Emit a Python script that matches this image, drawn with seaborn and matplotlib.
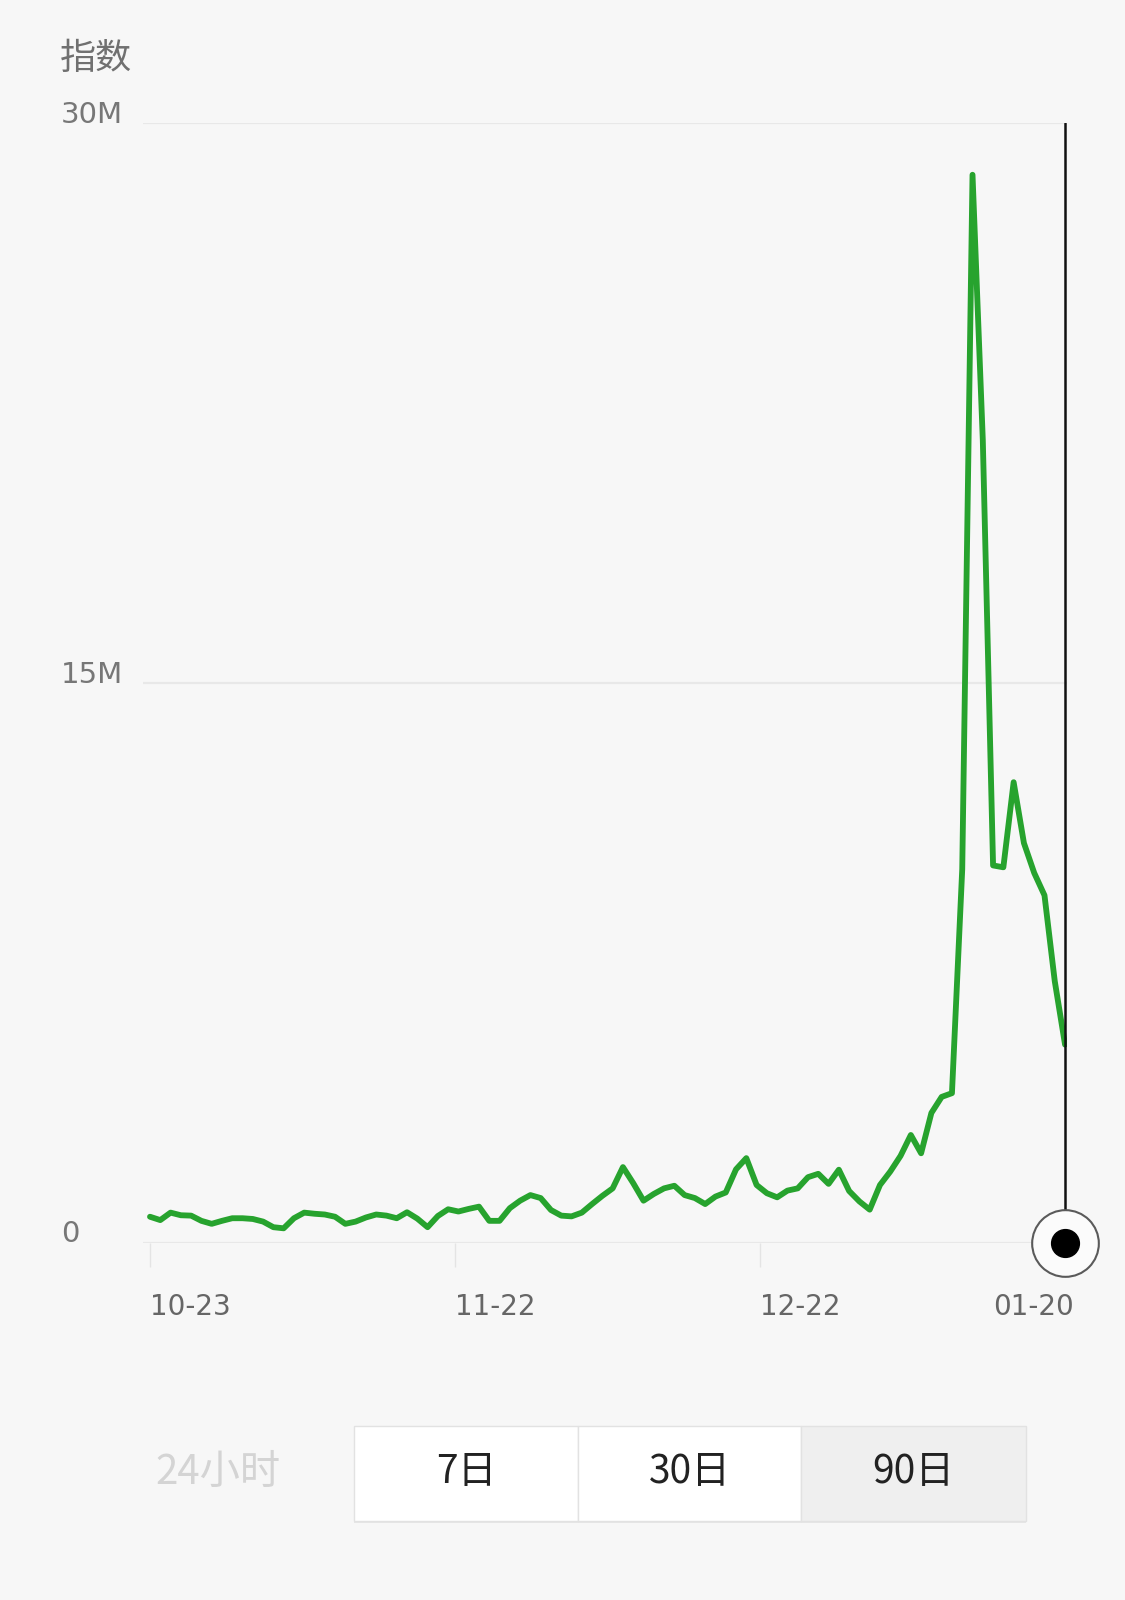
import numpy as np
import pandas as pd
import matplotlib
matplotlib.use("Agg")
import matplotlib.pyplot as plt
import matplotlib.transforms as mtransforms
from matplotlib.patches import Rectangle
import seaborn as sns

# values, index in millions, one per day
dates = pd.date_range("2023-10-23", "2024-01-20", freq="D")
index_values = [
    0.69, 0.60, 0.80, 0.73, 0.72, 0.58, 0.50, 0.58, 0.65, 0.65,
    0.63, 0.56, 0.41, 0.38, 0.65, 0.80, 0.77, 0.75, 0.69, 0.50,
    0.56, 0.67, 0.75, 0.72, 0.65, 0.81, 0.64, 0.41, 0.71, 0.89,
    0.83, 0.90, 0.96, 0.58, 0.58, 0.92, 1.12, 1.27, 1.19, 0.87,
    0.72, 0.70, 0.80, 1.03, 1.25, 1.45, 2.02, 1.59, 1.12, 1.30,
    1.45, 1.52, 1.27, 1.19, 1.03, 1.23, 1.34, 1.96, 2.26, 1.54,
    1.32, 1.21, 1.39, 1.45, 1.75, 1.84, 1.57, 1.95, 1.38, 1.10,
    0.88, 1.54, 1.90, 2.32, 2.88, 2.39, 3.47, 3.90, 4.00, 10.00,
    28.60, 21.50, 10.10, 10.05, 12.33, 10.70, 9.90, 9.30, 7.00, 5.30,
]
tick_labels = ["10-23", "11-22", "12-22", "01-20"]
y_ticks = [0, 15, 30]
y_tick_labels = ["0", "15M", "30M"]
range_buttons = ["7日", "30日", "90日"]
inactive_label = "24小时"

BG = "#f7f7f7"
GREEN = "#27a32e"
W, H = 1125, 1600
NUM_FONT = ["DejaVu Sans"]

sns.set_theme(style="white")
plt.rcParams["font.family"] = ["Noto Sans CJK SC", "DejaVu Sans"]

df = pd.DataFrame({"date": dates, "value": index_values})
df["day"] = (df["date"] - df["date"].iloc[0]).dt.days
last_day = df["day"].iloc[-1]
# labels sit at even thirds of the range
tick_pos = np.linspace(0, last_day, len(tick_labels))

fig = plt.figure(figsize=(W / 100, H / 100), dpi=100, facecolor=BG)
ax = fig.add_axes([143 / W, 1 - 1242.5 / H, 924 / W, 1120 / H])
ax.set_facecolor(BG)

sns.lineplot(data=df, x="day", y="value", color=GREEN, linewidth=4.2, ax=ax, zorder=3)

ax.set_xlim(-0.68, 89.19)
ax.set_ylim(0, 30)
for s in ax.spines.values():
    s.set_visible(False)

# horizontal grid
ax.set_yticks(y_ticks)
ax.set_yticklabels(y_tick_labels, family=NUM_FONT)
ax.yaxis.grid(True, color="#e8e8e8", linewidth=1.6, zorder=0)
ax.xaxis.grid(False)
ax.tick_params(axis="y", left=False, length=0, pad=59, labelsize=21, labelcolor="#777777")
for lab in ax.get_yticklabels():
    lab.set_ha("left")
    lab.set_va("baseline")

# date ticks
ax.set_xticks(tick_pos)
ax.set_xticklabels(tick_labels, family=NUM_FONT)
ax.tick_params(axis="x", bottom=True, direction="out", length=17.5, width=1,
               color="#e4e4e4", pad=19, labelsize=20, labelcolor="#666666")
xlabels = ax.get_xticklabels()
for lab in xlabels[:-1]:
    lab.set_ha("left")
xlabels[-1].set_ha("right")
xlabels[-1].set_transform(xlabels[-1].get_transform()
                          + mtransforms.ScaledTranslation(0.09, 0, fig.dpi_scale_trans))
ax.set_xlabel("")
ax.set_ylabel("")

# cursor line + marker at the latest day
ax.axvline(last_day, color="#111111", linewidth=1.8, zorder=4)
ax.scatter([last_day], [0], s=48 ** 2, facecolor="#fbfbfb", edgecolor="#5a5a5a",
           linewidth=1.5, zorder=5, clip_on=False)
ax.scatter([last_day], [0], s=20 ** 2, color="#000000", zorder=6, clip_on=False)

fig.text(60 / W, 1 - 59 / H, "指数", fontsize=26, color="#707070", ha="left", va="center")

# range selector at the bottom
ui = fig.add_axes([0, 0, 1, 1])
ui.set_xlim(0, W)
ui.set_ylim(H, 0)
ui.axis("off")
ui.patch.set_alpha(0)

edges = [354, 578, 801, 1026]
top, bottom = 1426, 1521
ui.add_patch(Rectangle((edges[0], top + 2), edges[-1] - edges[0], bottom - top,
                       facecolor="#e6e6e6", edgecolor="none"))
fills = ["#ffffff", "#ffffff", "#efefef"]
for i, label in enumerate(range_buttons):
    ui.add_patch(Rectangle((edges[i], top), edges[i + 1] - edges[i], bottom - top,
                           facecolor=fills[i], edgecolor="#e2e2e2", linewidth=1))
    ui.text((edges[i] + edges[i + 1]) / 2, 1472, label, fontsize=28, color="#222222",
            ha="center", va="center")
ui.text(155, 1472, inactive_label, fontsize=29, color="#d4d4d4", ha="left", va="center")

fig.savefig("out.png", dpi=100, facecolor=BG)
